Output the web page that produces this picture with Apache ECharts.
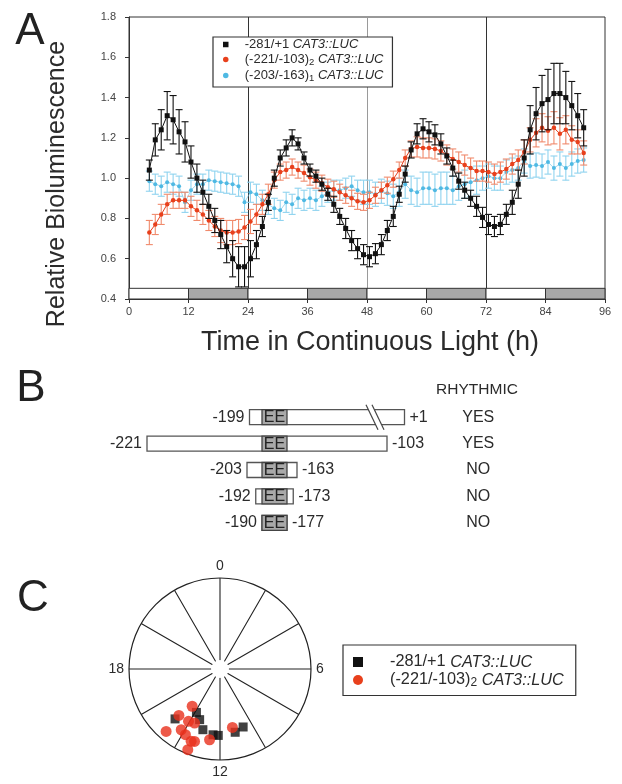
<!DOCTYPE html>
<html><head><meta charset="utf-8">
<script src="https://cdn.jsdelivr.net/npm/echarts@6/dist/echarts.min.js"></script>
<style>html,body{margin:0;padding:0;background:#fff}#c{width:622px;height:784px}</style>
</head><body><div id="c"></div>
<script>
// ---------- Panel A data ----------
const hours = [4.1,5.3,6.5,7.7,8.9,10.1,11.3,12.5,13.7,14.9,16.1,17.3,18.5,19.7,20.9,22.1,23.3,24.5,25.7,26.9,28.1,29.3,30.5,31.7,32.9,34.1,35.3,36.5,37.7,38.9,40.1,41.3,42.5,43.7,44.9,46.1,47.3,48.5,49.7,50.9,52.1,53.3,54.5,55.7,56.9,58.1,59.3,60.5,61.7,62.9,64.1,65.3,66.5,67.7,68.9,70.1,71.3,72.5,73.7,74.9,76.1,77.3,78.5,79.7,80.9,82.1,83.3,84.5,85.7,86.9,88.1,89.3,90.5,91.7];
const blackMean = [1.04,1.19,1.24,1.31,1.29,1.23,1.18,1.08,1.00,0.93,0.86,0.79,0.72,0.66,0.60,0.56,0.56,0.60,0.67,0.76,0.88,1.00,1.10,1.15,1.20,1.17,1.10,1.04,1.01,0.97,0.92,0.87,0.81,0.75,0.69,0.65,0.62,0.61,0.625,0.67,0.74,0.81,0.92,1.02,1.14,1.22,1.245,1.23,1.215,1.17,1.11,1.05,0.985,0.94,0.90,0.86,0.805,0.77,0.76,0.77,0.82,0.88,0.97,1.10,1.24,1.32,1.37,1.39,1.42,1.42,1.40,1.36,1.31,1.25];
const blackErr = [0.05,0.08,0.10,0.12,0.12,0.11,0.10,0.08,0.07,0.06,0.06,0.06,0.07,0.08,0.09,0.10,0.10,0.09,0.07,0.05,0.04,0.04,0.04,0.04,0.04,0.03,0.03,0.03,0.03,0.03,0.03,0.04,0.04,0.05,0.05,0.05,0.05,0.05,0.05,0.05,0.05,0.05,0.04,0.04,0.04,0.05,0.05,0.05,0.05,0.05,0.04,0.04,0.04,0.04,0.04,0.05,0.05,0.05,0.05,0.05,0.05,0.06,0.07,0.09,0.12,0.13,0.14,0.15,0.15,0.15,0.13,0.12,0.11,0.09];
const redMean = [0.73,0.77,0.82,0.87,0.89,0.89,0.89,0.86,0.84,0.82,0.79,0.76,0.74,0.73,0.73,0.735,0.755,0.785,0.82,0.87,0.92,0.99,1.03,1.04,1.055,1.04,1.025,1.005,0.99,0.975,0.955,0.945,0.93,0.915,0.90,0.885,0.88,0.89,0.915,0.94,0.965,0.995,1.04,1.10,1.145,1.155,1.15,1.15,1.145,1.135,1.115,1.095,1.08,1.065,1.05,1.035,1.035,1.03,1.02,1.03,1.045,1.07,1.09,1.13,1.19,1.225,1.25,1.235,1.25,1.22,1.24,1.19,1.18,1.125];
const redErr = [0.06,0.05,0.05,0.05,0.04,0.04,0.04,0.05,0.05,0.05,0.05,0.05,0.06,0.06,0.06,0.06,0.06,0.06,0.05,0.05,0.05,0.04,0.04,0.04,0.04,0.04,0.04,0.04,0.04,0.04,0.04,0.04,0.04,0.04,0.04,0.04,0.04,0.04,0.04,0.04,0.04,0.04,0.04,0.04,0.04,0.05,0.05,0.05,0.05,0.05,0.05,0.05,0.05,0.05,0.05,0.05,0.05,0.05,0.05,0.05,0.05,0.05,0.05,0.06,0.06,0.07,0.07,0.07,0.08,0.08,0.07,0.07,0.06,0.06];
const cyanMean = [0.985,0.97,0.96,0.98,0.97,0.96,0.88,0.94,0.97,0.97,0.99,0.985,0.98,0.975,0.97,0.96,0.88,0.93,0.92,0.89,0.87,0.85,0.84,0.88,0.87,0.90,0.89,0.90,0.89,0.91,0.93,0.94,0.94,0.95,0.96,0.94,0.93,0.93,0.92,0.935,0.925,0.91,0.93,0.97,0.94,0.93,0.95,0.95,0.94,0.95,0.95,0.94,0.96,0.97,0.98,0.99,1.00,1.01,1.00,1.00,1.03,1.04,1.05,1.085,1.06,1.065,1.06,1.08,1.05,1.07,1.05,1.07,1.085,1.09];
const cyanErr = [0.05,0.05,0.05,0.05,0.05,0.05,0.05,0.05,0.05,0.05,0.05,0.05,0.05,0.05,0.05,0.05,0.05,0.05,0.05,0.05,0.05,0.05,0.05,0.05,0.05,0.05,0.05,0.05,0.05,0.05,0.05,0.05,0.05,0.05,0.05,0.05,0.06,0.06,0.06,0.06,0.06,0.06,0.07,0.07,0.07,0.07,0.08,0.08,0.08,0.08,0.08,0.07,0.07,0.07,0.07,0.07,0.06,0.06,0.06,0.06,0.06,0.06,0.06,0.06,0.06,0.06,0.06,0.06,0.06,0.06,0.06,0.06,0.06,0.06];
const lightDark = [[0,12,0],[12,24,1],[24,36,0],[36,48,1],[48,60,0],[60,72,1],[72,84,0],[84,96,1]];
const dayLines = [24, 48, 72];
const constructNames = ['-281/+1', '(-221/-103)', '(-203/-163)'];
const constructSubs = ['', '2', '1'];
const reporter = 'CAT3::LUC';

// ---------- Panel B data ----------
const bLeftLabel = ['-199', '-221', '-203', '-192', '-190'];
const bRightLabel = ['+1', '-103', '-163', '-173', '-177'];
const bRhythmic = ['YES', 'YES', 'NO', 'NO', 'NO'];
const bBoxStart = [-5, -46, -6, -2.5, 0];   // schematic units (EE element = 0..10)
const bBoxEnd = [57, 50, 14, 12.5, 10];
const bEE = [0, 10];
const bBreak = [44, null, null, null, null];
const bRhythmCol = 86.5;

// ---------- Panel C data: [relative radius, phase (h)] ----------
const phaseBlack = [[0.738,14.8],[0.543,13.9],[0.60,13.46],[0.693,13.05],[0.727,12.4],[0.73,12.1],[0.715,11.1],[0.686,10.55]];
const phaseRed = [[0.511,14.45],[0.681,14.77],[0.671,14.07],[0.656,13.68],[0.906,14.72],[0.792,14.17],[0.816,13.85],[0.856,13.45],[0.844,13.29],[0.955,13.45],[0.786,12.56],[0.656,11.2]];
const clockLabels = [0, 6, 12, 18];

// ---------- build ----------
const FONT = '"Liberation Sans", Arial, Helvetica, sans-serif';
const TXT = '#2b2b2b';
const BLACK = '#111111', RED = '#e8401c', CYAN = '#4fb9e3';
const RED_ERR = '#f08a6c', CYAN_ERR = '#8fd3ef';
const POLAR_C = [220, 669], POLAR_R = 91;

function pairs(means) { return hours.map((h, i) => [h, means[i]]); }
function errorSeries(means, errs, color, z) {
  return {
    type: 'custom', xAxisIndex: 0, yAxisIndex: 0, z: z, silent: true,
    data: hours.map((h, i) => [h, means[i] - errs[i], means[i] + errs[i]]),
    encode: { x: 0, y: [1, 2] },
    renderItem: function (params, api) {
      const hi = api.coord([api.value(0), api.value(2)]);
      const lo = api.coord([api.value(0), api.value(1)]);
      const cw = 3.5;
      const st = { stroke: color, lineWidth: 1.1 };
      return { type: 'group', children: [
        { type: 'line', shape: { x1: hi[0], y1: hi[1], x2: lo[0], y2: lo[1] }, style: st },
        { type: 'line', shape: { x1: hi[0] - cw, y1: hi[1], x2: hi[0] + cw, y2: hi[1] }, style: st },
        { type: 'line', shape: { x1: lo[0] - cw, y1: lo[1], x2: lo[0] + cw, y2: lo[1] }, style: st }
      ] };
    }
  };
}
function legendFormatter(name) {
  const i = constructNames.indexOf(name);
  let s = '{sp| }{n|' + name + '}';
  if (constructSubs[i]) s += '{s|' + constructSubs[i] + '}';
  s += '{i| ' + reporter + '}';
  return s;
}
function legendRich(fs, sub, lh, spw) {
  return {
    sp: { width: spw, fontSize: fs },
    n: { fontSize: fs, fontFamily: FONT, color: TXT, lineHeight: lh },
    i: { fontSize: fs, fontFamily: FONT, color: TXT, fontStyle: 'italic', lineHeight: lh },
    s: { fontSize: sub, fontFamily: FONT, color: TXT, lineHeight: Math.round(sub * 0.9), verticalAlign: 'bottom' }
  };
}

const chart = echarts.init(document.getElementById('c'), null, { width: 622, height: 784 });
const option = {
  animation: false,
  backgroundColor: '#fff',
  textStyle: { fontFamily: FONT },
  grid: [
    { left: 129, top: 17, width: 476, height: 282, show: true, borderColor: '#333', borderWidth: 1, backgroundColor: 'transparent', outerBoundsMode: 'none' },
    { left: 112, top: 404, width: 400, height: 132, show: false, outerBoundsMode: 'none' }
  ],
  xAxis: [
    { gridIndex: 0, type: 'value', min: 0, max: 96, interval: 12,
      name: 'Time in Continuous Light (h)', nameLocation: 'middle', nameGap: 30,
      nameTextStyle: { fontSize: 27, color: TXT, fontFamily: FONT, padding: [0, 0, 0, 6] },
      axisLine: { lineStyle: { color: '#333', width: 1 } },
      axisTick: { show: true, length: 4, lineStyle: { color: '#333' } },
      axisLabel: { fontSize: 11, color: '#444', margin: 7, fontFamily: FONT },
      splitLine: { show: false } },
    { gridIndex: 1, type: 'value', min: -60, max: 100, show: false }
  ],
  yAxis: [
    { gridIndex: 0, type: 'value', min: 0.4, max: 1.8, interval: 0.2,
      name: 'Relative Bioluminescence', nameLocation: 'middle', nameGap: 59, nameRotate: 90,
      nameTextStyle: { fontSize: 25, color: TXT, fontFamily: FONT, padding: [0, 52, 0, 0] },
      axisLine: { show: true, lineStyle: { color: '#333', width: 1 } },
      axisTick: { show: true, length: 4, lineStyle: { color: '#333' } },
      axisLabel: { fontSize: 11, color: '#444', margin: 13, fontFamily: FONT, formatter: v => v.toFixed(1) },
      splitLine: { show: false } },
    { gridIndex: 1, type: 'category', data: bLeftLabel.map((_, i) => String(i)), inverse: true, show: false }
  ],
  polar: { center: POLAR_C, radius: [0, POLAR_R] },
  angleAxis: { polarIndex: 0, type: 'value', min: 0, max: 24, interval: 2, startAngle: 90, clockwise: true,
    axisLine: { show: true, lineStyle: { color: '#222', width: 1.2 } },
    axisTick: { show: false },
    splitLine: { show: true, lineStyle: { color: '#222', width: 1.1 } },
    axisLabel: { show: true, fontSize: 14, color: TXT, margin: 5, fontFamily: FONT,
      formatter: v => (clockLabels.indexOf(v) >= 0 ? String(v) : '') } },
  radiusAxis: { polarIndex: 0, type: 'value', min: 0, max: 1, axisLine: { show: false }, axisTick: { show: false }, axisLabel: { show: false }, splitLine: { show: false } },
  legend: [
    { left: 213, top: 37, orient: 'vertical', selectedMode: false,
      data: [ { name: constructNames[0], icon: 'path://M0 0H10V10H0Z' }, { name: constructNames[1], icon: 'circle' }, { name: constructNames[2], icon: 'circle' } ],
      itemWidth: 10, itemHeight: 5.5, itemGap: 2, padding: [1, 9, 4, 10],
      borderColor: '#333', borderWidth: 1.2, backgroundColor: '#fff',
      formatter: legendFormatter, textStyle: { rich: legendRich(13, 9.5, 15, 9) } },
    { left: 343, top: 645, orient: 'vertical', selectedMode: false,
      data: [ { name: constructNames[0], icon: 'path://M0 0H10V10H0Z' }, { name: constructNames[1], icon: 'circle' } ],
      itemWidth: 20, itemHeight: 10, itemGap: 2, padding: [9, 12, 7, 10],
      borderColor: '#333', borderWidth: 1.2,
      formatter: legendFormatter, textStyle: { rich: legendRich(16.3, 12, 17, 17) } }
  ],
  graphic: [
    { type: 'text', x: 30, y: 32, style: { text: 'A', fontSize: 44, fill: '#222', fontFamily: FONT, align: 'center', verticalAlign: 'middle' } },
    { type: 'text', x: 31, y: 389, style: { text: 'B', fontSize: 44, fill: '#222', fontFamily: FONT, align: 'center', verticalAlign: 'middle' } },
    { type: 'text', x: 33, y: 599, style: { text: 'C', fontSize: 44, fill: '#222', fontFamily: FONT, align: 'center', verticalAlign: 'middle' } },
    { type: 'text', x: 477, y: 390, style: { text: 'RHYTHMIC', fontSize: 15.5, fill: TXT, fontFamily: FONT, align: 'center', verticalAlign: 'middle' } },
    // small open centre of the phase clock (drawn on an upper layer so it masks the spoke ends)
    { type: 'circle', zlevel: 1, z: 100, silent: true, shape: { cx: POLAR_C[0], cy: POLAR_C[1], r: 9 }, style: { fill: '#fff', stroke: null } }
  ],
  series: [
    // light/dark bar
    { type: 'custom', xAxisIndex: 0, yAxisIndex: 0, z: 1, silent: true, data: lightDark, encode: { x: [0, 1] },
      renderItem: function (params, api) {
        const p0 = api.coord([api.value(0), 0.4]);
        const p1 = api.coord([api.value(1), 0.453]);
        return { type: 'rect', shape: { x: p0[0], y: p1[1], width: p1[0] - p0[0], height: p0[1] - p1[1] },
          style: { fill: api.value(2) ? '#a8a8a8' : '#ffffff', stroke: '#333', lineWidth: 1 } };
      } },
    errorSeries(cyanMean, cyanErr, CYAN_ERR, 2),
    { type: 'line', name: constructNames[2], xAxisIndex: 0, yAxisIndex: 0, z: 3, data: pairs(cyanMean),
      symbol: 'circle', symbolSize: 4, showSymbol: true, lineStyle: { color: CYAN, width: 0.8, opacity: 0.7 }, itemStyle: { color: CYAN },
      markLine: { silent: true, symbol: 'none', label: { show: false }, z: 1,
        data: dayLines.map(d => ({ xAxis: d, lineStyle: { color: d === 48 ? '#9a9a9a' : '#333', width: 1, type: 'solid' } })) } },
    errorSeries(redMean, redErr, RED_ERR, 4),
    { type: 'line', name: constructNames[1], xAxisIndex: 0, yAxisIndex: 0, z: 5, data: pairs(redMean),
      symbol: 'circle', symbolSize: 4.5, lineStyle: { color: RED, width: 1 }, itemStyle: { color: RED } },
    errorSeries(blackMean, blackErr, '#111', 6),
    { type: 'line', name: constructNames[0], xAxisIndex: 0, yAxisIndex: 0, z: 7, data: pairs(blackMean),
      symbol: 'rect', symbolSize: 5, lineStyle: { color: BLACK, width: 1 }, itemStyle: { color: BLACK } },
    // Panel B schematic
    { type: 'custom', xAxisIndex: 1, yAxisIndex: 1, silent: true,
      data: bLeftLabel.map((_, i) => [bBoxStart[i], bBoxEnd[i], i]),
      encode: { x: [0, 1], y: 2 },
      renderItem: function (params, api) {
        const i = api.value(2);
        const s = api.coord([api.value(0), i]), e = api.coord([api.value(1), i]);
        const a = api.coord([bEE[0], i]), b = api.coord([bEE[1], i]);
        const r = api.coord([bRhythmCol, i]);
        const h = 15, y = s[1];
        const tx = { fontSize: 16, fontFamily: FONT, fill: TXT, verticalAlign: 'middle' };
        const kids = [
          { type: 'rect', shape: { x: s[0], y: y - h / 2, width: e[0] - s[0], height: h }, style: { fill: '#fff', stroke: '#555', lineWidth: 1.3 } },
          { type: 'rect', shape: { x: a[0], y: y - h / 2, width: b[0] - a[0], height: h }, style: { fill: '#a9a9a9', stroke: '#444', lineWidth: 1.3 } },
          { type: 'text', x: (a[0] + b[0]) / 2, y: y + 0.5, style: Object.assign({ text: 'EE', align: 'center' }, tx, { fill: '#222' }) },
          { type: 'text', x: s[0] - 5, y: y, style: Object.assign({ text: bLeftLabel[i], align: 'right' }, tx) },
          { type: 'text', x: e[0] + 5, y: y, style: Object.assign({ text: bRightLabel[i], align: 'left' }, tx) },
          { type: 'text', x: r[0], y: y, style: Object.assign({ text: bRhythmic[i], align: 'center' }, tx) }
        ];
        if (bBreak[i] != null) {
          const k = api.coord([bBreak[i], i]);
          const t = y - h / 2 - 5, bt = y + h / 2 + 5;
          kids.push({ type: 'polygon', shape: { points: [[k[0] - 6, t], [k[0], t], [k[0] + 12, bt], [k[0] + 6, bt]] }, style: { fill: '#fff' } });
          kids.push({ type: 'line', shape: { x1: k[0] - 6, y1: t, x2: k[0] + 6, y2: bt }, style: { stroke: '#444', lineWidth: 1.2 } });
          kids.push({ type: 'line', shape: { x1: k[0], y1: t, x2: k[0] + 12, y2: bt }, style: { stroke: '#444', lineWidth: 1.2 } });
        }
        return { type: 'group', children: kids };
      } },
    // Panel C phases
    { type: 'scatter', name: constructNames[0], coordinateSystem: 'polar', polarIndex: 0, data: phaseBlack,
      symbol: 'rect', symbolSize: 9, itemStyle: { color: BLACK }, z: 60 },
    { type: 'scatter', name: constructNames[1], coordinateSystem: 'polar', polarIndex: 0, data: phaseRed,
      symbol: 'circle', symbolSize: 11, itemStyle: { color: '#e8301c' }, z: 61 }
  ]
};
chart.setOption(option);
</script>
</body></html>
